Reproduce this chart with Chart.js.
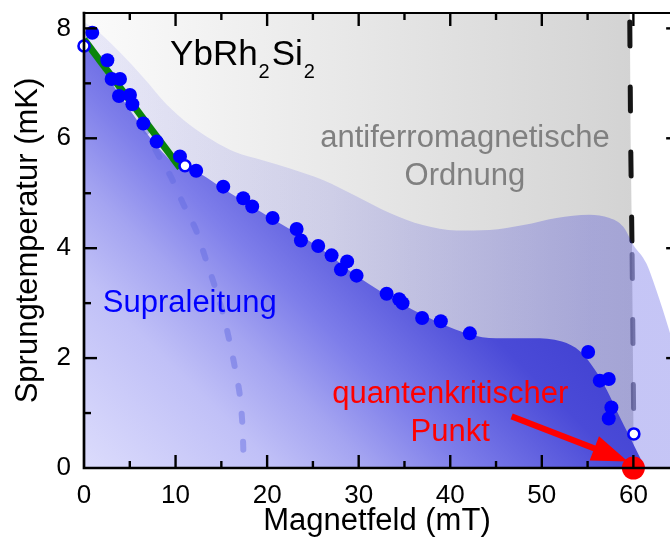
<!DOCTYPE html>
<html><head><meta charset="utf-8">
<script src="https://cdn.jsdelivr.net/npm/chart.js@4.4.1/dist/chart.umd.min.js"></script>
<style>html,body{margin:0;padding:0;background:#fff;}canvas{display:block;}</style>
</head><body>
<canvas id="c" width="670" height="546"></canvas>
<script>
// ---- data (field in mT, temperature in mK) ----
const tcField = [0.9,2.55,3.02,3.93,3.82,5.02,5.28,6.48,7.93,10.48,12.25,15.21,17.39,18.37,20.6,23.22,23.69,25.58,27.04,28.74,28.06,29.77,33.05,34.42,34.79,36.93,38.97,42.14,55.06,56.33,57.31,57.6,57.31];
const tcTemp  = [7.92,7.42,7.08,7.08,6.77,6.79,6.62,6.27,5.94,5.67,5.41,5.12,4.91,4.76,4.55,4.35,4.14,4.04,3.87,3.76,3.61,3.50,3.17,3.07,3.00,2.73,2.67,2.45,2.11,1.59,1.62,1.10,0.90];
const openField = [0, 11.03, 60.05];
const openTemp  = [7.68, 5.50, 0.62];
const qcpField = [60];
const qcpTemp  = [0];
const linField = [0, 10.5];
const linTemp  = [7.8, 5.46];
const scField = [0, 10.5, 12.3, 15.2, 20.6, 25.6, 30, 35, 39, 42, 45, 49, 52.2, 54.2, 55.8, 57.1, 58.3, 59.6, 61.3];
const scTemp  = [7.72, 5.46, 5.38, 5.08, 4.53, 4.02, 3.47, 2.96, 2.63, 2.44, 2.36, 2.36, 2.3, 2.12, 1.79, 1.42, 1.0, 0.57, 0];
const haloField = [0, 1.7, 4, 6.5, 9, 11.5, 14, 16.5, 19.5, 22.5, 26.1, 29.8, 33.4, 37, 40.7, 44.3, 48, 51.6, 55.2, 57.4, 58.9, 60, 61.4, 62.5, 63.9, 66];
const haloTemp  = [8.12, 7.92, 7.55, 7.1, 6.62, 6.25, 5.97, 5.75, 5.6, 5.45, 5.24, 4.94, 4.64, 4.42, 4.32, 4.33, 4.42, 4.55, 4.61, 4.55, 4.39, 4.06, 3.73, 3.24, 2.51, 1.2];
const afmField = [0, 59.6, 59.7, 59.85, 60.05];
const afmTemp  = [8.6, 8.6, 6, 4, 0];
const afmLineField = [59.6, 59.7, 59.85, 60.05];
const afmLineTemp  = [8.28, 6, 4.05, 0.62];
const bcsField = [6.3, 7.9, 9.55, 10.85, 12.3, 13.3, 14.3, 15.25, 15.95, 16.6, 17.1, 17.35, 17.45];
const bcsTemp  = [6.3, 5.76, 5.28, 4.8, 4.3, 3.8, 3.3, 2.77, 2.26, 1.72, 1.2, 0.6, 0];
const arrowFrom = [46.7, 0.94];
const arrowTo   = [59.4, 0.12];
const xTickValues = [0, 10, 20, 30, 40, 50, 60];
const xMinorValues = [5, 15, 25, 35, 45, 55];
const yTickValues = [0, 2, 4, 6, 8];
const yMinorValues = [1, 3, 5, 7];
const xRange = [0, 64];
const yRange = [0, 8.28];
const frameRightValue = 65;
const xTitle = 'Magnetfeld (mT)';
const yTitle = 'Sprungtemperatur (mK)';

const FONT = '"Liberation Sans", Arial, sans-serif';
const pts = (xs, ys) => xs.map((v, i) => ({x: v, y: ys[i]}));

function scaled(build) {
  return function (context) {
    const chart = context.chart;
    const {ctx, chartArea, scales} = chart;
    if (!chartArea || !scales.x || !scales.y) return 'rgba(0,0,0,0)';
    return build(ctx, scales.x, scales.y);
  };
}

const grayFill = scaled((ctx, x, y) => {
  const g = ctx.createLinearGradient(x.getPixelForValue(0), 0, x.getPixelForValue(60), 0);
  g.addColorStop(0, '#fbfbfb');
  g.addColorStop(1, '#d3d3d3');
  return g;
});
const haloFill = scaled((ctx, x, y) => {
  const g = ctx.createLinearGradient(x.getPixelForValue(0), 0, x.getPixelForValue(64), 0);
  g.addColorStop(0, 'rgba(25,25,217,0.08)');
  g.addColorStop(0.42, 'rgba(25,25,217,0.13)');
  g.addColorStop(0.86, 'rgba(25,25,217,0.25)');
  g.addColorStop(1, 'rgba(25,25,217,0.25)');
  return g;
});
const scFill = scaled((ctx, x, y) => {
  const g = ctx.createLinearGradient(x.getPixelForValue(0), y.getPixelForValue(0), x.getPixelForValue(34.5), y.getPixelForValue(5.8));
  g.addColorStop(0, '#dcdcfc');
  g.addColorStop(0.3, '#c0c0f7');
  g.addColorStop(0.45, '#a4a4f1');
  g.addColorStop(0.6, '#7e7eea');
  g.addColorStop(0.85, '#4a4ad7');
  g.addColorStop(1, '#4242d2');
  return g;
});

const framePlugin = {
  id: 'frameAndNotes',
  afterDatasetsDraw(chart) {
    const {ctx, chartArea: a, scales: {x, y}} = chart;
    ctx.save();
    // arrow
    const x0 = x.getPixelForValue(arrowFrom[0]), y0 = y.getPixelForValue(arrowFrom[1]);
    const x1 = x.getPixelForValue(arrowTo[0]), y1 = y.getPixelForValue(arrowTo[1]);
    const ang = Math.atan2(y1 - y0, x1 - x0);
    const hl = 36, hw = 13;
    const bx = x1 - hl * Math.cos(ang), by = y1 - hl * Math.sin(ang);
    ctx.strokeStyle = '#ff0000'; ctx.fillStyle = '#ff0000';
    ctx.lineWidth = 6; ctx.lineCap = 'butt';
    ctx.beginPath(); ctx.moveTo(x0, y0); ctx.lineTo(bx + 2 * Math.cos(ang), by + 2 * Math.sin(ang)); ctx.stroke();
    ctx.beginPath();
    ctx.moveTo(x1, y1);
    ctx.lineTo(bx + hw * Math.sin(ang), by - hw * Math.cos(ang));
    ctx.lineTo(bx - hw * Math.sin(ang), by + hw * Math.cos(ang));
    ctx.closePath(); ctx.fill();

    // texts
    ctx.textBaseline = 'alphabetic';
    ctx.textAlign = 'center';
    ctx.font = '31px ' + FONT;
    ctx.fillStyle = '#808080';
    ctx.fillText('antiferromagnetische', x.getPixelForValue(41.6), y.getPixelForValue(5.84));
    ctx.fillText('Ordnung', x.getPixelForValue(41.6), y.getPixelForValue(5.15));
    ctx.fillStyle = '#ff0000';
    ctx.fillText('quantenkritischer', x.getPixelForValue(40.0), y.getPixelForValue(1.19));
    ctx.fillText('Punkt', x.getPixelForValue(40.0), y.getPixelForValue(0.5));
    ctx.textAlign = 'left';
    ctx.fillStyle = '#0000ff';
    ctx.fillText('Supraleitung', x.getPixelForValue(2.05), y.getPixelForValue(2.84));
    // YbRh2Si2
    ctx.fillStyle = '#000';
    let tx = x.getPixelForValue(9.4);
    const ty = y.getPixelForValue(7.33);
    const parts = [['YbRh', 35, 0], ['2', 20, 13], ['Si', 35, 0], ['2', 20, 13]];
    parts.forEach(([s, sz, dy]) => {
      ctx.font = sz + 'px ' + FONT;
      ctx.fillText(s, tx, ty + dy);
      tx += ctx.measureText(s).width + (sz < 30 ? 2 : 1);
    });

    // frame
    ctx.strokeStyle = '#000';
    ctx.lineCap = 'square';
    ctx.lineWidth = 2.7;
    ctx.beginPath();
    ctx.moveTo(a.left, a.top);
    ctx.lineTo(a.left, a.bottom);
    ctx.lineTo(a.right + 2, a.bottom);
    ctx.stroke();
    ctx.lineWidth = 2.2;
    ctx.beginPath();
    ctx.moveTo(a.left, a.top);
    ctx.lineTo(a.right + 2, a.top);
    ctx.stroke();
    // inward ticks
    ctx.lineCap = 'butt';
    ctx.lineWidth = 2.4;
    const xr = x.getPixelForValue(frameRightValue);
    const tick = (vals, len) => {
      vals.forEach(v => {
        const px = x.getPixelForValue(v);
        ctx.beginPath(); ctx.moveTo(px, a.bottom); ctx.lineTo(px, a.bottom - len); ctx.stroke();
        ctx.beginPath(); ctx.moveTo(px, a.top); ctx.lineTo(px, a.top + len); ctx.stroke();
      });
    };
    tick(xTickValues.filter(v => v > 0), 13);
    tick(xMinorValues, 7);
    const ytick = (vals, len) => {
      vals.forEach(v => {
        const py = y.getPixelForValue(v);
        ctx.beginPath(); ctx.moveTo(a.left, py); ctx.lineTo(a.left + len, py); ctx.stroke();
        ctx.beginPath(); ctx.moveTo(xr, py); ctx.lineTo(xr - len, py); ctx.stroke();
      });
    };
    ytick(yTickValues.filter(v => v > 0), 13);
    ytick(yMinorValues, 7);
    ctx.restore();
  }
};

new Chart(document.getElementById('c'), {
  type: 'line',
  data: {
    datasets: [
      { label: 'AFM', data: pts(afmField, afmTemp), fill: 'origin', backgroundColor: grayFill,
        borderWidth: 0, pointRadius: 0, tension: 0, order: 20 },
      { label: 'TN', data: pts(afmLineField, afmLineTemp), fill: false, borderColor: '#151515',
        borderWidth: 5, borderDash: [24, 41], borderDashOffset: 56, borderCapStyle: 'round',
        segment: { borderColor: c => (c.p0.parsed.y < 4.1 ? 'rgba(70,70,85,0.6)' : '#151515') },
        pointRadius: 0, tension: 0, order: 19 },
      { label: 'halo', data: pts(haloField, haloTemp), fill: 'origin', backgroundColor: haloFill,
        borderWidth: 0, pointRadius: 0, cubicInterpolationMode: 'monotone', order: 18 },
      { label: 'SC', data: pts(scField, scTemp), fill: 'origin', backgroundColor: scFill,
        borderWidth: 0, pointRadius: 0, cubicInterpolationMode: 'monotone', order: 17 },
      { label: 'BCS', data: pts(bcsField, bcsTemp), fill: false, borderColor: 'rgba(95,105,225,0.45)',
        borderWidth: 6, borderDash: [8, 20], borderDashOffset: 25, borderCapStyle: 'round',
        pointRadius: 0, cubicInterpolationMode: 'monotone', order: 16 },
      { label: 'linear', data: pts(linField, linTemp), fill: false, borderColor: '#0a850a',
        borderWidth: 7, borderCapStyle: 'butt', pointRadius: 0, tension: 0, order: 15 },
      { label: 'Tc', data: pts(tcField, tcTemp), showLine: false, pointRadius: 7, pointBorderWidth: 0,
        pointBackgroundColor: '#0000ff', pointBorderColor: '#0000ff', order: 14, clip: false },
      { label: 'open', data: pts(openField, openTemp), showLine: false, pointRadius: 5.5, pointBorderWidth: 2.6,
        pointBackgroundColor: '#ffffff', pointBorderColor: '#0000ff', order: 13, clip: false },
      { label: 'QCP', data: pts(qcpField, qcpTemp), showLine: false, pointRadius: 11.5, pointBorderWidth: 0,
        pointBackgroundColor: '#ff0000', pointBorderColor: '#ff0000', order: 12, clip: false }
    ]
  },
  options: {
    responsive: false,
    animation: false,
    devicePixelRatio: 1,
    layout: { autoPadding: false, padding: { top: 13, right: 0, left: 0, bottom: 0 } },
    plugins: { legend: { display: false }, tooltip: { enabled: false }, filler: { propagate: false } },
    events: [],
    scales: {
      x: {
        type: 'linear', min: xRange[0], max: xRange[1],
        afterFit: s => { s.height = 78; s.paddingLeft = 0; s.paddingRight = 0; },
        afterBuildTicks: s => { s.ticks = xTickValues.map(v => ({ value: v })); },
        grid: { display: false, drawTicks: false },
        border: { display: false },
        ticks: { padding: 12, color: '#000', font: { family: FONT, size: 26 }, maxRotation: 0, autoSkip: false, includeBounds: false },
        title: { display: true, text: xTitle, color: '#000', font: { family: FONT, size: 31 }, padding: { top: 0, bottom: 6 } }
      },
      y: {
        type: 'linear', min: yRange[0], max: yRange[1],
        afterFit: s => { s.width = 84; s.paddingTop = 0; s.paddingBottom = 0; },
        afterBuildTicks: s => { s.ticks = yTickValues.map(v => ({ value: v })); },
        grid: { display: false, drawTicks: false },
        border: { display: false },
        ticks: { padding: 13, color: '#000', font: { family: FONT, size: 26 }, autoSkip: false, includeBounds: false },
        title: { display: true, text: yTitle, color: '#000', font: { family: FONT, size: 31 }, padding: { top: 10, bottom: 0 } }
      }
    }
  },
  plugins: [framePlugin]
});
</script>
</body></html>
